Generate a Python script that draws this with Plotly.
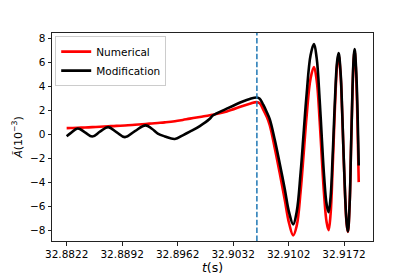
import plotly.graph_objects as go

# time samples (s)
t = [32.8822, 32.88274, 32.88359, 32.88451, 32.88543, 32.88640, 32.88744, 32.88848,
     32.88955, 32.89081, 32.89215, 32.89295, 32.89370, 32.89459, 32.89585, 32.89685,
     32.89774, 32.89900, 32.90026, 32.90063, 32.90240, 32.90441, 32.90530, 32.90618,
     32.90656, 32.90700, 32.90744, 32.90782, 32.90845, 32.90908, 32.90971, 32.91027,
     32.91078, 32.91122, 32.91172, 32.91210, 32.91248, 32.91298, 32.91340, 32.91374,
     32.91412, 32.91437, 32.91468, 32.91500, 32.91525, 32.91550, 32.91575, 32.91588,
     32.91613, 32.91632, 32.91651, 32.91676, 32.91695, 32.91710, 32.91733, 32.91752,
     32.91768, 32.91790, 32.91808, 32.91827, 32.91843, 32.91853, 32.91871, 32.91890,
     32.91905]

numerical = [0.55, 0.56, 0.58, 0.60, 0.63, 0.66, 0.70, 0.74,
             0.77, 0.83, 0.90, 0.94, 0.98, 1.03, 1.12, 1.23,
             1.34, 1.48, 1.62, 1.67, 1.94, 2.40, 2.58, 2.72,
             2.62, 2.10, 1.50, 0.80, -1.10, -3.20, -5.40, -7.40,
             -8.39, -7.60, -4.70, -1.60, 1.60, 4.70, 5.64, 4.55,
             1.16, -1.70, -5.00, -7.30, -7.95, -6.60, -2.90, -0.68,
             3.60, 5.80, 6.60, 5.00, 2.00, -0.90, -5.10, -7.40,
             -8.10, -5.80, -1.10, 3.80, 6.40, 6.95, 5.20, 0.80,
             -3.95]

modification = [-0.12, 0.15, 0.52, 0.20, -0.15, 0.25, 0.63, 0.22,
                -0.20, 0.30, 0.78, 0.50, 0.10, -0.14, -0.35, -0.05,
                0.25, 0.72, 1.33, 1.60, 2.17, 2.77, 2.98, 3.10,
                3.00, 2.50, 1.90, 1.30, -0.40, -2.40, -4.50, -6.50,
                -7.47, -6.44, -3.14, 0.15, 3.40, 6.65, 7.55, 6.40,
                2.90, 0.00, -3.45, -5.80, -6.45, -5.20, -1.90, 0.18,
                4.10, 6.10, 6.80, 5.20, 2.20, -0.80, -5.00, -7.30,
                -8.06, -5.80, -1.00, 4.00, 6.60, 7.15, 5.60, 2.00,
                -2.56]

t_marker = 32.9062
x_ticks = [32.8822, 32.8892, 32.8962, 32.9032, 32.9102, 32.9172]
x_tick_labels = ["32.8822", "32.8892", "32.8962", "32.9032", "32.9102", "32.9172"]
y_ticks = [-8, -6, -4, -2, 0, 2, 4, 6, 8]

fig = go.Figure()
fig.add_trace(go.Scatter(x=t, y=numerical, mode="lines", name="Numerical",
                         line=dict(color="red", width=2.6, shape="spline", smoothing=1.1)))
fig.add_trace(go.Scatter(x=t, y=modification, mode="lines", name="Modification",
                         line=dict(color="black", width=2.6, shape="spline", smoothing=1.1)))

fig.add_shape(type="line", xref="x", yref="paper", x0=t_marker, x1=t_marker, y0=0, y1=1,
              line=dict(color="#1f77b4", width=1.5, dash="5.5px,2.4px"), layer="above")

axis_common = dict(showline=True, mirror=True, linecolor="#222", linewidth=1,
                   ticks="outside", ticklen=3.5, tickwidth=0.8, tickcolor="#222",
                   showgrid=False, zeroline=False, automargin=False,
                   tickfont=dict(family="DejaVu Sans", size=10.5, color="black"))

# page body has an 8px margin; the figure is sized so the plot area lands where the reference's does
fig.update_layout(
    width=407, height=269,
    margin=dict(l=44, r=42, t=25, b=36, autoexpand=False),
    paper_bgcolor="white", plot_bgcolor="white",
    font=dict(family="DejaVu Sans", color="black"),
    showlegend=True,
    legend=dict(x=0.01, y=0.985, xanchor="left", yanchor="top",
                bgcolor="rgba(255,255,255,0.8)", bordercolor="#cccccc", borderwidth=1,
                font=dict(family="DejaVu Sans", size=10.5, color="black"),
                tracegroupgap=0, itemwidth=30),
    xaxis=dict(range=[32.88035, 32.92085], tickvals=x_ticks, ticktext=x_tick_labels,
               title=dict(text="<i>t</i>(s)", font=dict(family="DejaVu Sans", size=12.5), standoff=3),
               **axis_common),
    yaxis=dict(range=[-8.86, 8.48], tickvals=y_ticks,
               title=dict(text="<i>Ã</i>(10<sup>−3</sup>)", font=dict(family="DejaVu Sans", size=11), standoff=5),
               **axis_common),
)

fig.write_html("out.html")
